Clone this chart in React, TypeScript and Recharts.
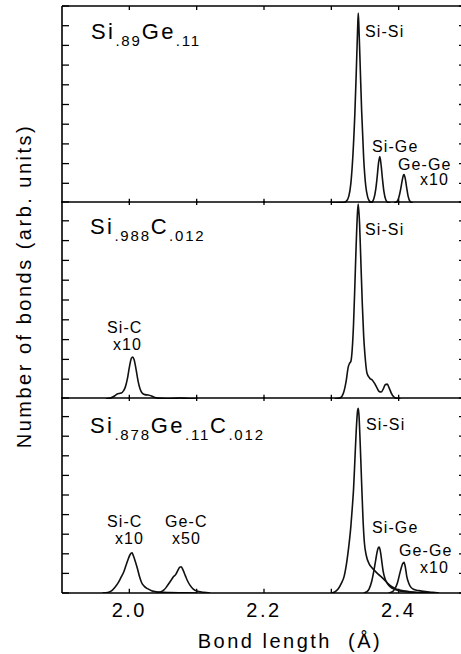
import { LineChart, Line, XAxis, YAxis, ReferenceLine } from 'recharts';

const FONT = "'Liberation Sans', Arial, Helvetica, sans-serif";

type Pair = [number, number];

// bond length axis (Å)
const xDomain: [number, number] = [1.9, 2.5];
const xTicks = [2.0, 2.1, 2.2, 2.3, 2.4];
const xLabelTicks = [2.0, 2.2, 2.4];
const yTicks = [0, 1, 2, 3, 4, 5, 6, 7, 8, 9, 10];

// Si.89Ge.11
const sgSiSi: Pair[] = [
  [2.3, 0], [2.318, 0.02], [2.322, 0.08], [2.326, 0.35], [2.329, 1.0], [2.332, 2.4], [2.335, 4.6],
  [2.337, 6.6], [2.339, 8.8], [2.34, 9.64], [2.341, 8.9], [2.343, 6.8], [2.345, 4.7], [2.348, 2.3],
  [2.351, 0.9], [2.354, 0.3], [2.357, 0.08], [2.362, 0],
];
const sgSiGe: Pair[] = [
  [2.356, 0], [2.36, 0.04], [2.363, 0.2], [2.366, 0.7], [2.368, 1.3], [2.37, 2.0], [2.372, 2.36],
  [2.374, 1.9], [2.376, 1.2], [2.378, 0.6], [2.381, 0.15], [2.384, 0.03], [2.388, 0],
];
const sgGeGe: Pair[] = [
  [2.393, 0], [2.397, 0.05], [2.4, 0.25], [2.403, 0.7], [2.405, 1.1], [2.407, 1.4], [2.408, 1.44],
  [2.41, 1.2], [2.412, 0.75], [2.414, 0.35], [2.417, 0.08], [2.421, 0],
];

// Si.988C.012
const scSiC: Pair[] = [
  [1.965, 0], [1.972, 0.05], [1.978, 0.15], [1.982, 0.25], [1.985, 0.28], [1.988, 0.3], [1.991, 0.4],
  [1.994, 0.6], [1.997, 1.0], [2.0, 1.6], [2.003, 2.05], [2.005, 2.12], [2.007, 2.0], [2.01, 1.5],
  [2.013, 0.9], [2.016, 0.5], [2.019, 0.3], [2.023, 0.22], [2.028, 0.2], [2.033, 0.15], [2.038, 0.08],
  [2.045, 0.03], [2.055, 0.01], [2.065, 0.02], [2.075, 0.05], [2.082, 0.04], [2.09, 0.01], [2.1, 0],
];
const scSiSi: Pair[] = [
  [2.305, 0], [2.313, 0.05], [2.318, 0.3], [2.322, 0.9], [2.325, 1.6], [2.327, 1.8], [2.329, 1.9],
  [2.331, 2.5], [2.333, 3.8], [2.335, 5.8], [2.337, 7.9], [2.339, 9.5], [2.34, 9.85], [2.342, 8.8],
  [2.344, 6.8], [2.346, 4.8], [2.348, 3.2], [2.35, 2.2], [2.353, 1.3], [2.357, 1.05], [2.361, 0.95],
  [2.364, 0.8], [2.368, 0.55], [2.371, 0.38], [2.374, 0.35], [2.377, 0.5], [2.38, 0.72], [2.383, 0.75],
  [2.386, 0.55], [2.389, 0.3], [2.393, 0.1], [2.398, 0.02], [2.403, 0],
];

// Si.878Ge.11C.012
const sgcSiC: Pair[] = [
  [1.96, 0], [1.968, 0.03], [1.974, 0.12], [1.979, 0.3], [1.984, 0.55], [1.988, 0.82], [1.992, 1.1],
  [1.995, 1.4], [1.998, 1.7], [2.001, 1.95], [2.004, 2.05], [2.006, 1.9], [2.009, 1.6], [2.012, 1.25],
  [2.015, 0.85], [2.018, 0.55], [2.022, 0.35], [2.027, 0.22], [2.033, 0.12], [2.04, 0.06], [2.05, 0.03],
  [2.06, 0.02], [2.08, 0.01], [2.1, 0],
];
const sgcGeC: Pair[] = [
  [2.04, 0], [2.046, 0.05], [2.051, 0.15], [2.055, 0.3], [2.059, 0.5], [2.063, 0.7], [2.066, 0.85],
  [2.069, 0.95], [2.072, 1.15], [2.075, 1.32], [2.077, 1.34], [2.08, 1.15], [2.083, 0.9], [2.086, 0.65],
  [2.09, 0.4], [2.095, 0.2], [2.1, 0.1], [2.11, 0.04], [2.12, 0],
];
const sgcSiSi: Pair[] = [
  [2.3, 0], [2.305, 0.05], [2.31, 0.2], [2.315, 0.5], [2.319, 0.85], [2.323, 1.6], [2.326, 2.4],
  [2.329, 3.4], [2.331, 4.3], [2.333, 5.3], [2.335, 6.8], [2.337, 8.3], [2.339, 9.3], [2.34, 9.42],
  [2.341, 9.1], [2.343, 7.5], [2.345, 5.6], [2.347, 3.8], [2.349, 2.6], [2.352, 1.9], [2.356, 1.5],
  [2.36, 1.3], [2.365, 1.12], [2.37, 0.95], [2.375, 0.8], [2.38, 0.63], [2.385, 0.45], [2.39, 0.32],
  [2.395, 0.22], [2.4, 0.16], [2.41, 0.1], [2.42, 0.05], [2.43, 0],
];
const sgcSiGe: Pair[] = [
  [2.348, 0], [2.352, 0.05], [2.356, 0.2], [2.36, 0.6], [2.363, 1.1], [2.366, 1.7], [2.368, 2.1],
  [2.37, 2.32], [2.371, 2.34], [2.373, 2.1], [2.375, 1.6], [2.377, 1.1], [2.38, 0.7], [2.384, 0.45],
  [2.388, 0.3], [2.393, 0.2], [2.4, 0.12], [2.41, 0.07], [2.425, 0.03], [2.44, 0.01], [2.45, 0],
];
const sgcGeGe: Pair[] = [
  [2.385, 0], [2.39, 0.05], [2.394, 0.2], [2.398, 0.5], [2.401, 0.9], [2.404, 1.3], [2.406, 1.5],
  [2.408, 1.56], [2.41, 1.3], [2.412, 0.85], [2.415, 0.5], [2.418, 0.3], [2.423, 0.18], [2.43, 0.12],
  [2.44, 0.07], [2.45, 0.04], [2.46, 0],
];

const toPoints = (d: Pair[]) => d.map(([x, y]) => ({ x, y }));

const axisLine = { stroke: '#000', strokeWidth: 1.6 };
const tickLine = { stroke: '#000', strokeWidth: 1.3 };
const labelStyle = { fontSize: 20, fill: '#000', fontFamily: FONT, letterSpacing: 2.5 };
// tick marks only, no tick text
const noText = () => <g />;

interface PanelProps {
  top: number;
  height: number;
  marginTop: number;
  series: Pair[][];
  last?: boolean;
}

const Panel = ({ top, height, marginTop, series, last }: PanelProps) => (
  <div style={{ position: 'absolute', left: 0, top }}>
    <LineChart
      width={466}
      height={height}
      margin={{ top: marginTop, right: 0, bottom: last ? 60 : 0, left: 62 }}
    >
      <XAxis
        xAxisId="t"
        orientation="top"
        type="number"
        dataKey="x"
        domain={xDomain}
        ticks={xTicks}
        interval={0}
        allowDataOverflow
        mirror
        height={1}
        tick={noText}
        tickLine={false}
        axisLine={axisLine}
      />
      <XAxis
        xAxisId="b"
        orientation="bottom"
        type="number"
        dataKey="x"
        domain={xDomain}
        ticks={xTicks}
        interval={0}
        allowDataOverflow
        mirror
        height={1}
        tick={noText}
        tickLine={false}
        axisLine={axisLine}
      />
      {last && (
        <XAxis
          xAxisId="lab"
          orientation="bottom"
          type="number"
          dataKey="x"
          domain={xDomain}
          ticks={xLabelTicks}
          interval={0}
          allowDataOverflow
          height={1}
          tickSize={0}
          tickMargin={9.5}
          tick={labelStyle}
          tickFormatter={(v: number) => v.toFixed(1)}
          axisLine={false}
          tickLine={false}
          label={{
            value: 'Bond length\u00A0 (Å)',
            position: 'bottom',
            offset: 40,
            dx: 26,
            style: labelStyle,
          }}
        />
      )}
      <YAxis
        yAxisId="l"
        orientation="left"
        type="number"
        domain={[0, 10]}
        ticks={yTicks}
        interval={0}
        allowDataOverflow
        mirror
        width={1}
        tickSize={7}
        tick={noText}
        axisLine={axisLine}
        tickLine={tickLine}
      />
      <YAxis
        yAxisId="r"
        orientation="right"
        type="number"
        domain={[0, 10]}
        ticks={yTicks}
        interval={0}
        allowDataOverflow
        mirror
        width={1}
        tickSize={7}
        tick={noText}
        axisLine={axisLine}
        tickLine={tickLine}
      />
      {/* short inward x tick marks on the bottom and top edges */}
      {xTicks.map((t) => (
        <ReferenceLine
          key={`b${t}`}
          xAxisId="b"
          yAxisId="l"
          segment={[{ x: t, y: 0 }, { x: t, y: 0.22 }]}
          stroke="#000"
          strokeWidth={1.3}
          ifOverflow="visible"
        />
      ))}
      {xTicks.map((t) => (
        <ReferenceLine
          key={`t${t}`}
          xAxisId="b"
          yAxisId="l"
          segment={[{ x: t, y: 9.8 }, { x: t, y: 10 }]}
          stroke="#000"
          strokeWidth={1.3}
          ifOverflow="visible"
        />
      ))}
      {series.map((d, i) => (
        <Line
          key={i}
          data={toPoints(d)}
          dataKey="y"
          xAxisId="b"
          yAxisId="l"
          type="monotone"
          stroke="#111"
          strokeWidth={1.6}
          dot={false}
          isAnimationActive={false}
        />
      ))}
    </LineChart>
  </div>
);

const big = { fontSize: 22, letterSpacing: 2.4 };
const sub = { fontSize: 15, letterSpacing: 1.8 };
const peak = { fontSize: 16, letterSpacing: 1.1 };

export default function App() {
  return (
    <div
      style={{
        position: 'absolute',
        left: 0,
        top: 0,
        width: 461,
        height: 654,
        overflow: 'hidden',
        background: '#fff',
        fontFamily: FONT,
      }}
    >
      <Panel top={0} height={203} marginTop={6} series={[sgSiSi, sgSiGe, sgGeGe]} />
      <Panel top={201} height={198} marginTop={0} series={[scSiC, scSiSi]} />
      <Panel top={397} height={257} marginTop={0} series={[sgcSiC, sgcGeC, sgcSiSi, sgcSiGe, sgcGeGe]} last />

      <svg
        width={461}
        height={654}
        style={{ position: 'absolute', left: 0, top: 0, pointerEvents: 'none' }}
        fontFamily={FONT}
        fill="#000"
      >
        <text
          x={24}
          y={286}
          dy="0.355em"
          textAnchor="middle"
          transform="rotate(-90 24 286)"
          fontSize={20}
          letterSpacing={2.5}
        >
          Number of bonds (arb. units)
        </text>

        {/* panel titles */}
        <text x={91} y={39} {...big}>
          Si<tspan {...sub} dy={7}>.89</tspan>
          <tspan dy={-7} {...big}>Ge</tspan>
          <tspan {...sub} dy={7}>.11</tspan>
        </text>
        <text x={90} y={234} {...big}>
          Si<tspan {...sub} dy={7}>.988</tspan>
          <tspan dy={-7} {...big}>C</tspan>
          <tspan {...sub} dy={7}>.012</tspan>
        </text>
        <text x={90} y={433} {...big}>
          Si<tspan {...sub} dy={7}>.878</tspan>
          <tspan dy={-7} {...big}>Ge</tspan>
          <tspan {...sub} dy={7}>.11</tspan>
          <tspan dy={-7} {...big}>C</tspan>
          <tspan {...sub} dy={7}>.012</tspan>
        </text>

        {/* peak labels */}
        <text x={365} y={37} {...peak}>Si-Si</text>
        <text x={372} y={152} {...peak}>Si-Ge</text>
        <text x={398} y={169.5} {...peak}>Ge-Ge</text>
        <text x={420} y={185} {...peak}>x10</text>

        <text x={365} y={235} {...peak}>Si-Si</text>
        <text x={107} y={333} {...peak}>Si-C</text>
        <text x={113} y={350} {...peak}>x10</text>

        <text x={366} y={430} {...peak}>Si-Si</text>
        <text x={107} y={526.5} {...peak}>Si-C</text>
        <text x={115} y={544} {...peak}>x10</text>
        <text x={165} y={526.5} {...peak}>Ge-C</text>
        <text x={172} y={544} {...peak}>x50</text>
        <text x={372} y={533} {...peak}>Si-Ge</text>
        <text x={399} y={555.5} {...peak}>Ge-Ge</text>
        <text x={420} y={573} {...peak}>x10</text>
      </svg>
    </div>
  );
}
